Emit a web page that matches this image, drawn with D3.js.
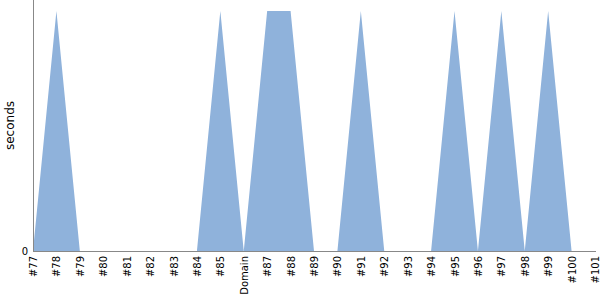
<!DOCTYPE html>
<html><head><meta charset="utf-8">
<script src="https://cdn.jsdelivr.net/npm/d3@7"></script>
<style>body{margin:0;background:#fff}text{font-family:"DejaVu Sans",sans-serif}</style>
</head><body>
<svg id="c" width="600" height="300"></svg>
<script>
const categories = ["#77","#78","#79","#80","#81","#82","#83","#84","#85","Domain","#87","#88","#89","#90","#91","#92","#93","#94","#95","#96","#97","#98","#99","#100","#101"];
const values = [0,1,0,0,0,0,0,0,1,0,1,1,0,0,1,0,0,0,1,0,1,0,1,0,0];
const yTicks = [0];

(function () {
const svg = d3.select("#c");
const mLeft = 33, mRight = 595, mTop = 0, mBottom = 251;
const x = d3.scalePoint().domain(categories).range([mLeft, mRight]);
const y = d3.scaleLinear().domain([0, 1.046]).range([mBottom, mTop]);

const data = categories.map((c, i) => ({c, v: values[i]}));
svg.append("path").datum(data)
  .attr("fill", "#8fb2db")
  .attr("d", d3.area().x(d => x(d.c)).y0(y(0)).y1(d => y(d.v)));

const xa = svg.append("g").attr("transform", `translate(0,${mBottom})`)
  .call(d3.axisBottom(x).tickSize(0).tickPadding(0));
xa.select(".domain").attr("stroke", "#888").attr("d", `M${mLeft},0.5H${mRight+1}`);
xa.selectAll("text").attr("transform", "rotate(-90)")
  .attr("text-anchor", "end").attr("x", -5).attr("y", 0).attr("dy", "0.35em")
  .attr("font-size", 10).attr("fill", "#000").attr("font-family", "DejaVu Sans");

const ya = svg.append("g").attr("transform", `translate(${mLeft},0)`)
  .call(d3.axisLeft(y).tickValues(yTicks).tickFormat(d3.format("d")).tickSize(0).tickPadding(5));
ya.select(".domain").attr("stroke", "#888").attr("d", `M0.5,0V${mBottom+1}`);
ya.selectAll("text").attr("font-size", 10).attr("fill", "#000").attr("font-family", "DejaVu Sans");

svg.append("text").attr("transform", `translate(14,${(mTop+mBottom)/2}) rotate(-90)`)
  .attr("text-anchor", "middle").attr("font-size", 12).attr("font-family", "DejaVu Sans").text("seconds");
})();
</script>
</body></html>
